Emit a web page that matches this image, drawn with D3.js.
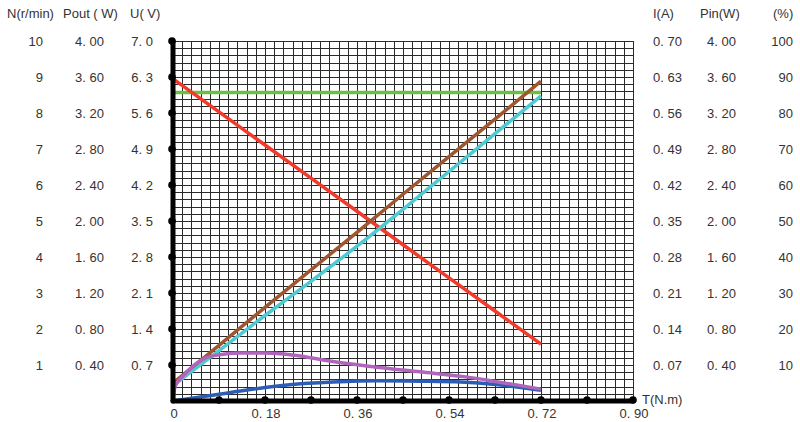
<!DOCTYPE html>
<html>
<head>
<meta charset="utf-8">
<script src="https://cdn.jsdelivr.net/npm/d3@7"></script>
<style>
  body { margin: 0; background: #fff; }
  text { font-family: "Liberation Sans", Arial, sans-serif; font-size: 13px; fill: #333; }
</style>
</head>
<body>
<div id="chart"></div>
<script>
//Tick labels for each scale column
var nLabels = ["1", "2", "3", "4", "5", "6", "7", "8", "9", "10"];
var poutLabels = ["0. 40", "0. 80", "1. 20", "1. 60", "2. 00", "2. 40", "2. 80", "3. 20", "3. 60", "4. 00"];
var uLabels = ["0. 7", "1. 4", "2. 1", "2. 8", "3. 5", "4. 2", "4. 9", "5. 6", "6. 3", "7. 0"];
var iLabels = ["0. 07", "0. 14", "0. 21", "0. 28", "0. 35", "0. 42", "0. 49", "0. 56", "0. 63", "0. 70"];
var pinLabels = ["0. 40", "0. 80", "1. 20", "1. 60", "2. 00", "2. 40", "2. 80", "3. 20", "3. 60", "4. 00"];
var effLabels = ["10", "20", "30", "40", "50", "60", "70", "80", "90", "100"];
var tTicks = [0, 0.18, 0.36, 0.54, 0.72, 0.90];
var tLabels = ["0", "0. 18", "0. 36", "0. 54", "0. 72", "0. 90"];

//Series
var torque = [0, 0.09, 0.18, 0.27, 0.36, 0.45, 0.54, 0.63, 0.72];
var speed = [8.95, 8.03, 7.11, 6.19, 5.27, 4.34, 3.42, 2.50, 1.58];
var voltage = [6.0, 6.0, 6.0, 6.0, 6.0, 6.0, 6.0, 6.0, 6.0];
var current = [0.035, 0.108, 0.182, 0.255, 0.328, 0.402, 0.475, 0.548, 0.622];
var pin = [0.17, 0.56, 0.95, 1.33, 1.72, 2.13, 2.55, 2.97, 3.39];

var effTorque = [0, 0.004, 0.018, 0.037, 0.063, 0.088, 0.13, 0.18, 0.233, 0.313, 0.399, 0.483, 0.573, 0.636, 0.72];
var efficiency = [0, 4, 6.7, 9.4, 11.9, 12.8, 13.3, 13.3, 12.8, 11.0, 9.4, 8.1, 6.7, 5.3, 3.3];

var poutTorque = [0, 0.06, 0.108, 0.18, 0.228, 0.313, 0.399, 0.483, 0.563, 0.636, 0.72];
var pout = [0, 0.05, 0.09, 0.15, 0.18, 0.21, 0.225, 0.22, 0.21, 0.18, 0.12];

//Width and height
var w = 800;
var h = 422;

var svg = d3.select("#chart")
  .append("svg")
  .attr("width", w)
  .attr("height", h);

//Scales
var xScale = d3.scaleLinear().domain([0, 0.9]).range([173, 633]);
var yU = d3.scaleLinear().domain([0, 7]).range([401, 41]);
var yN = d3.scaleLinear().domain([0, 10]).range([401, 41]);
var yPout = d3.scaleLinear().domain([0, 4]).range([401, 41]);
var yI = d3.scaleLinear().domain([0, 0.7]).range([401, 41]);
var yPin = d3.scaleLinear().domain([0, 4]).range([401, 41]);
var yEff = d3.scaleLinear().domain([0, 100]).range([401, 41]);

//Fine grid, 50 x 50 cells
var grid = svg.append("g").attr("class", "grid")
  .attr("stroke", "#2a2a2a")
  .attr("stroke-width", 1);

grid.selectAll("line.v")
  .data(d3.range(51))
  .enter()
  .append("line")
  .attr("x1", function(d) { return Math.round(xScale(d * 0.018)) + 0.5; })
  .attr("x2", function(d) { return Math.round(xScale(d * 0.018)) + 0.5; })
  .attr("y1", yU(7))
  .attr("y2", yU(0));

grid.selectAll("line.h")
  .data(d3.range(51))
  .enter()
  .append("line")
  .attr("y1", function(d) { return Math.round(yU(d * 0.14)) + 0.5; })
  .attr("y2", function(d) { return Math.round(yU(d * 0.14)) + 0.5; })
  .attr("x1", xScale(0))
  .attr("x2", xScale(0.9));

//Curves
function drawLine(xs, ys, yScale, color, curve) {
  var pts = xs.map(function(t, i) { return [t, ys[i]]; });
  var line = d3.line()
    .x(function(d) { return xScale(d[0]); })
    .y(function(d) { return yScale(d[1]); })
    .curve(curve || d3.curveLinear);
  svg.append("path")
    .datum(pts)
    .attr("d", line)
    .attr("fill", "none")
    .attr("stroke", color)
    .attr("stroke-width", 3.5);
}

drawLine(torque, voltage, yU, "#6cbf42");
drawLine(torque, speed, yN, "#f23a2a");
drawLine(torque, pin, yPin, "#4fc9d2", d3.curveMonotoneX);
drawLine(torque, current, yI, "#9e5630");
drawLine(poutTorque, pout, yPout, "#2c5cb4", d3.curveMonotoneX);
drawLine(effTorque, efficiency, yEff, "#b065bc", d3.curveMonotoneX);

//Axes, thick black with dots
svg.append("line")
  .attr("x1", xScale(0)).attr("x2", xScale(0))
  .attr("y1", yU(7)).attr("y2", yU(0))
  .attr("stroke", "#000").attr("stroke-width", 5).attr("stroke-linecap", "round");

svg.append("line")
  .attr("x1", xScale(0)).attr("x2", xScale(0.9))
  .attr("y1", yU(0)).attr("y2", yU(0))
  .attr("stroke", "#000").attr("stroke-width", 5).attr("stroke-linecap", "round");

svg.selectAll("circle.ydot")
  .data(d3.range(1, 11))
  .enter()
  .append("circle")
  .attr("cx", xScale(0) - 1)
  .attr("cy", function(d) { return yU(d * 0.7); })
  .attr("r", 3.8)
  .attr("fill", "#000");

svg.selectAll("circle.xdot")
  .data(d3.range(1, 11))
  .enter()
  .append("circle")
  .attr("cx", function(d) { return xScale(d * 0.09); })
  .attr("cy", yU(0) - 1)
  .attr("r", 3.8)
  .attr("fill", "#000");

//Column labels
function column(labels, scale, step, x, anchor) {
  svg.append("g").selectAll("text")
    .data(labels)
    .enter()
    .append("text")
    .attr("x", x)
    .attr("y", function(d, i) { return scale((i + 1) * step); })
    .attr("dy", "0.35em")
    .attr("text-anchor", anchor)
    .text(function(d) { return d; });
}

column(nLabels, yN, 1, 43, "end");
column(poutLabels, yPout, 0.4, 75, "start");
column(uLabels, yU, 0.7, 153, "end");
column(iLabels, yI, 0.07, 653, "start");
column(pinLabels, yPin, 0.4, 707, "start");
column(effLabels, yEff, 10, 793, "end");

//Headers
var headers = [
  {t: "N(r/min)", x: 7},
  {t: "Pout ( W)", x: 63},
  {t: "U( V)", x: 130},
  {t: "I(A)", x: 653},
  {t: "Pin(W)", x: 700},
  {t: "(%)", x: 773}
];
svg.append("g").selectAll("text")
  .data(headers)
  .enter()
  .append("text")
  .attr("x", function(d) { return d.x; })
  .attr("y", 13)
  .attr("dy", "0.35em")
  .text(function(d) { return d.t; });

//Bottom tick labels
svg.append("g").selectAll("text")
  .data(tTicks)
  .enter()
  .append("text")
  .attr("x", function(d) { return xScale(d) + 1; })
  .attr("y", 413)
  .attr("dy", "0.35em")
  .attr("text-anchor", "middle")
  .text(function(d, i) { return tLabels[i]; });

svg.append("text")
  .attr("x", 642)
  .attr("y", 399)
  .attr("dy", "0.35em")
  .text("T(N.m)");
</script>
</body>
</html>
